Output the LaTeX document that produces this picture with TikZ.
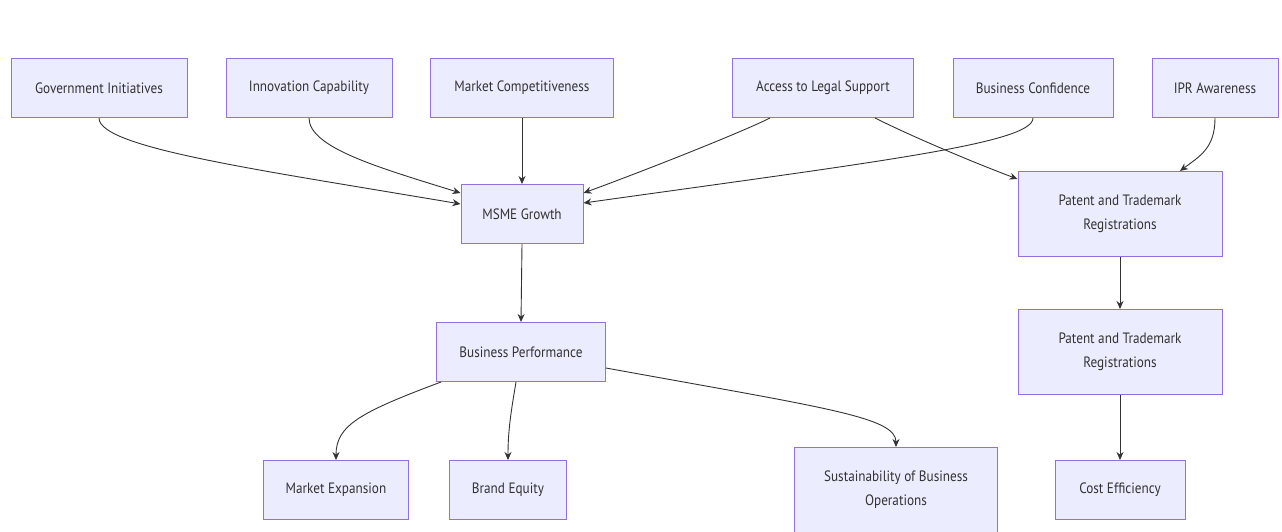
\documentclass[tikz,border=0pt]{standalone}
\usepackage{fontspec}
\setmainfont{PT Sans}[FakeStretch = 0.88]
\usetikzlibrary{arrows.meta}

\definecolor{boxfill}{HTML}{ECECFF}
\definecolor{boxline}{HTML}{9370DB}
\definecolor{edgecol}{HTML}{333333}

\begin{document}
\begin{tikzpicture}[x = 1pt, y = -1pt,
    box/.style = {draw = boxline, fill = boxfill, line width = 1pt, text = edgecol,
        font = \fontsize{15}{24}\selectfont, align = center,
        minimum height = 59, inner sep = 0pt},
    tall/.style = {box, minimum height = 85},
    arr/.style = {draw = edgecol, line width = 0.9pt,
        -{Stealth[length = 8pt, width = 7pt]}}]

    \useasboundingbox (0, 0) rectangle (1282, 531);

    % top row
    \node [box, minimum width = 176] (gov) at (99, 88) {Government Initiatives};
    \node [box, minimum width = 166] (innov) at (309, 88) {Innovation Capability};
    \node [box, minimum width = 183] (mcomp) at (522, 88) {Market Competitiveness};
    \node [box, minimum width = 181] (legal) at (823, 88) {Access to Legal Support};
    \node [box, minimum width = 160] (conf) at (1033, 88) {Business Confidence};
    \node [box, minimum width = 126] (ipr) at (1215, 88) {IPR Awareness};

    \node [box, minimum width = 122] (msme) at (522, 214) {MSME Growth};
    \node [tall, minimum width = 204] (pat1) at (1120, 214) {Patent and Trademark\\Registrations};

    \node [box, minimum width = 169] (perf) at (521, 352) {Business Performance};
    \node [tall, minimum width = 204] (pat2) at (1120, 352) {Patent and Trademark\\Registrations};

    % bottom row
    \node [box, minimum width = 145] (mexp) at (336, 490) {Market Expansion};
    \node [box, minimum width = 117] (brand) at (508, 490) {Brand Equity};
    \node [tall, minimum width = 203] (sust) at (896, 490) {Sustainability of Business\\Operations};
    \node [box, minimum width = 130] (cost) at (1120, 490) {Cost Efficiency};

    \draw [arr] (gov.south) .. controls +(0, 30) and +(-200, -34) .. ([yshift = 10]msme.west);
    \draw [arr] (innov.south) .. controls +(0, 30) and +(-80, -25) .. ([yshift = 21]msme.west);
    \draw [arr] (mcomp.south) -- (msme.north);
    \draw [arr] ([xshift = -53]legal.south) .. controls +(-30, 15) and +(60, -22) .. ([yshift = 21]msme.east);
    \draw [arr] (conf.south) .. controls +(0, 25) and +(300, -42) .. ([yshift = 11]msme.east);
    \draw [arr] ([xshift = 52]legal.south) .. controls +(40, 20) and +(-40, -15) .. ([yshift = -8]pat1.north west);
    \draw [arr] (ipr.south) .. controls +(0, 30) and +(20, -15) .. ([xshift = 60]pat1.north);
    \draw [arr] (msme.south) -- (perf.north);
    \draw [arr] ([xshift = 5]perf.south west) .. controls +(-80, 30) and +(0, -35) .. (mexp.north);
    \draw [arr] ([xshift = -5]perf.south) .. controls +(-5, 30) and +(0, -30) .. (brand.north);
    \draw [arr] ([yshift = -16]perf.east) .. controls +(220, 40) and +(0, -30) .. (sust.north);
    \draw [arr] (pat1.south) -- (pat2.north);
    \draw [arr] (pat2.south) -- (cost.north);

\end{tikzpicture}
\end{document}
